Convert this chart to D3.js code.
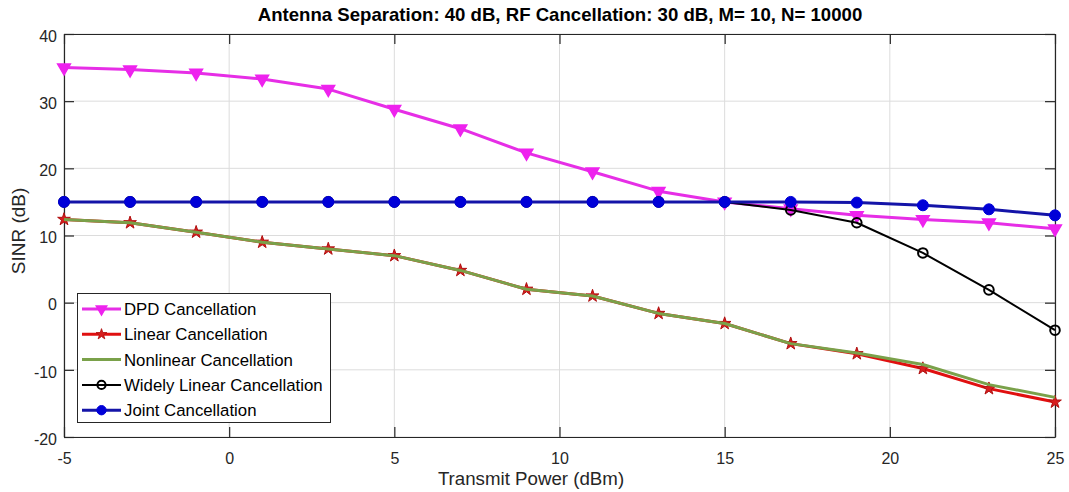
<!DOCTYPE html>
<html><head><meta charset="utf-8">
<script src="https://cdn.jsdelivr.net/npm/d3@7"></script>
<style>
html,body{margin:0;padding:0;background:#fff;}
svg{display:block;font-family:"Liberation Sans",Arial,sans-serif;}
</style></head>
<body>
<script>
const xValues = [-5,-3,-1,1,3,5,7,9,11,13,15,17,19,21,23,25];
const dpdValues = [35,34.7,34.2,33.3,31.8,28.8,25.9,22.3,19.5,16.6,15,14,13.0,12.4,11.9,11.0];
const linearValues = [12.4,11.9,10.5,9.0,8.0,7.0,4.8,2.0,1.0,-1.6,-3.1,-6.1,-7.6,-9.8,-12.8,-14.8];
const nonlinearValues = [12.4,11.9,10.5,9.0,8.0,7.0,4.8,2.0,1.0,-1.6,-3.1,-6.1,-7.5,-9.2,-12.2,-14.1];
const widelyValues = [15,15,15,15,15,15,15,15,15,15,15,13.8,11.9,7.4,1.9,-4.1];
const jointValues = [15,15,15,15,15,15,15,15,15,15,15,15.0,14.9,14.5,13.9,13.0];
const xTicks = [-5,0,5,10,15,20,25];
const yTicks = [-20,-10,0,10,20,30,40];
const seriesNames = ["DPD Cancellation","Linear Cancellation","Nonlinear Cancellation","Widely Linear Cancellation","Joint Cancellation"];
const titleText = "Antenna Separation: 40 dB, RF Cancellation: 30 dB, M= 10, N= 10000";
const xLabelText = "Transmit Power (dBm)";
const yLabelText = "SINR (dB)";

const W = 1069, H = 492;
const L = 64, R = 1055, T = 34, B = 437;
const svg = d3.select("body").append("svg").attr("width", W).attr("height", H);
const x = d3.scaleLinear().domain([-5,25]).range([L,R]);
const y = d3.scaleLinear().domain([-20,40]).range([B,T]);

// grid
const g = svg.append("g");
g.selectAll(".gx").data(xTicks).join("line")
  .attr("x1", d=>x(d)).attr("x2", d=>x(d)).attr("y1", T).attr("y2", B)
  .attr("stroke", "#dcdcdc").attr("stroke-width", 1);
g.selectAll(".gy").data(yTicks).join("line")
  .attr("y1", d=>y(d)).attr("y2", d=>y(d)).attr("x1", L).attr("x2", R)
  .attr("stroke", "#dcdcdc").attr("stroke-width", 1);

// axes
const tl = 10;
const fmt = d => String(d);
const axB = d3.axisBottom(x).tickValues(xTicks).tickFormat(fmt).tickSizeInner(-tl).tickSizeOuter(0).tickPadding(16);
const axL = d3.axisLeft(y).tickValues(yTicks).tickFormat(fmt).tickSizeInner(-tl).tickSizeOuter(0).tickPadding(17);
const axT = d3.axisTop(x).tickValues(xTicks).tickSizeInner(-tl).tickSizeOuter(0).tickFormat("");
const axR = d3.axisRight(y).tickValues(yTicks).tickSizeInner(-tl).tickSizeOuter(0).tickFormat("");
function style(sel){
  sel.select(".domain").attr("stroke","#262626").attr("stroke-width",1.2);
  sel.selectAll(".tick line").attr("stroke","#262626").attr("stroke-width",1.2);
  sel.selectAll(".tick text").attr("fill","#262626").style("font-size","16px").style("font-family","Liberation Sans, Arial, sans-serif");
}
svg.append("g").attr("transform",`translate(0,${B})`).call(axB).call(style);
svg.append("g").attr("transform",`translate(${L},0)`).call(axL).call(style)
  .selectAll(".tick text").attr("x", -7).attr("dy","0.45em");
svg.append("g").attr("transform",`translate(0,${T})`).call(axT).call(style);
svg.append("g").attr("transform",`translate(${R},0)`).call(axR).call(style);

// series
const series = [
  {name: seriesNames[0], vals: dpdValues, color:"#e62ee6", mcolor:"#ee22ee", lw:3, marker:"tri"},
  {name: seriesNames[1], vals: linearValues, color:"#e01010", mcolor:"#d81e1e", lw:3, marker:"star"},
  {name: seriesNames[2], vals: nonlinearValues, color:"#7aa14a", mcolor:null, lw:3, marker:null},
  {name: seriesNames[3], vals: widelyValues, color:"#000000", mcolor:"#000000", lw:2, marker:"ocircle"},
  {name: seriesNames[4], vals: jointValues, color:"#1414a8", mcolor:"#0000d8", lw:3, marker:"circle"}
];
const line = d3.line().x(d=>x(d[0])).y(d=>y(d[1]));
const triPath = d3.symbol().type(d3.symbolTriangle).size(70)();
const starPath = d3.symbol().type(d3.symbolStar).size(50)();

function drawMarker(sel, s, px, py, small){
  const k = small ? 0.85 : 1;
  if (s.marker==="tri") {
    sel.append("path").attr("d", triPath).attr("transform",`translate(${px},${py}) rotate(180) scale(${k})`)
      .attr("fill", s.mcolor).attr("stroke", s.mcolor).attr("stroke-width",1.5);
  } else if (s.marker==="star") {
    sel.append("path").attr("d", starPath).attr("transform",`translate(${px},${py}) scale(${k})`)
      .attr("fill", s.mcolor).attr("stroke", "#b01010").attr("stroke-width",1);
  } else if (s.marker==="ocircle") {
    sel.append("circle").attr("cx",px).attr("cy",py).attr("r",4.8*k)
      .attr("fill","none").attr("stroke", s.mcolor).attr("stroke-width",2);
  } else if (s.marker==="circle") {
    sel.append("circle").attr("cx",px).attr("cy",py).attr("r",5.5*k)
      .attr("fill", s.mcolor).attr("stroke", s.mcolor).attr("stroke-width",1);
  }
}

const plot = svg.append("g");
series.forEach(s=>{
  const pts = xValues.map((xv,i)=>[xv, s.vals[i]]);
  const gs = plot.append("g");
  gs.append("path").datum(pts).attr("d", line).attr("fill","none")
    .attr("stroke", s.color).attr("stroke-width", s.lw).attr("stroke-linejoin","round");
  pts.forEach(p=> drawMarker(gs, s, x(p[0]), y(p[1]), false));
});

// legend
const lg = svg.append("g");
lg.append("rect").attr("x",77.5).attr("y",293.5).attr("width",253).attr("height",129)
  .attr("fill","#fff").attr("stroke","#262626").attr("stroke-width",1);
series.forEach((s,i)=>{
  const yy = 309 + i*25.3;
  lg.append("line").attr("x1",82).attr("x2",121).attr("y1",yy).attr("y2",yy)
    .attr("stroke", s.color).attr("stroke-width", s.lw);
  drawMarker(lg, s, 101.5, yy, true);
  lg.append("text").attr("x",124).attr("y",yy+6).text(s.name)
    .style("font-size","16.8px").attr("fill","#000");
});

// title and labels
svg.append("text").attr("x",560).attr("y",21).attr("text-anchor","middle")
  .style("font-size","18.6px").style("font-weight","bold").attr("fill","#000").text(titleText);
svg.append("text").attr("x",531).attr("y",485).attr("text-anchor","middle")
  .style("font-size","18.7px").attr("fill","#262626").text(xLabelText);
svg.append("text").attr("transform","translate(25,231) rotate(-90)").attr("text-anchor","middle")
  .style("font-size","19px").attr("fill","#262626").text(yLabelText);
</script>
</body></html>
